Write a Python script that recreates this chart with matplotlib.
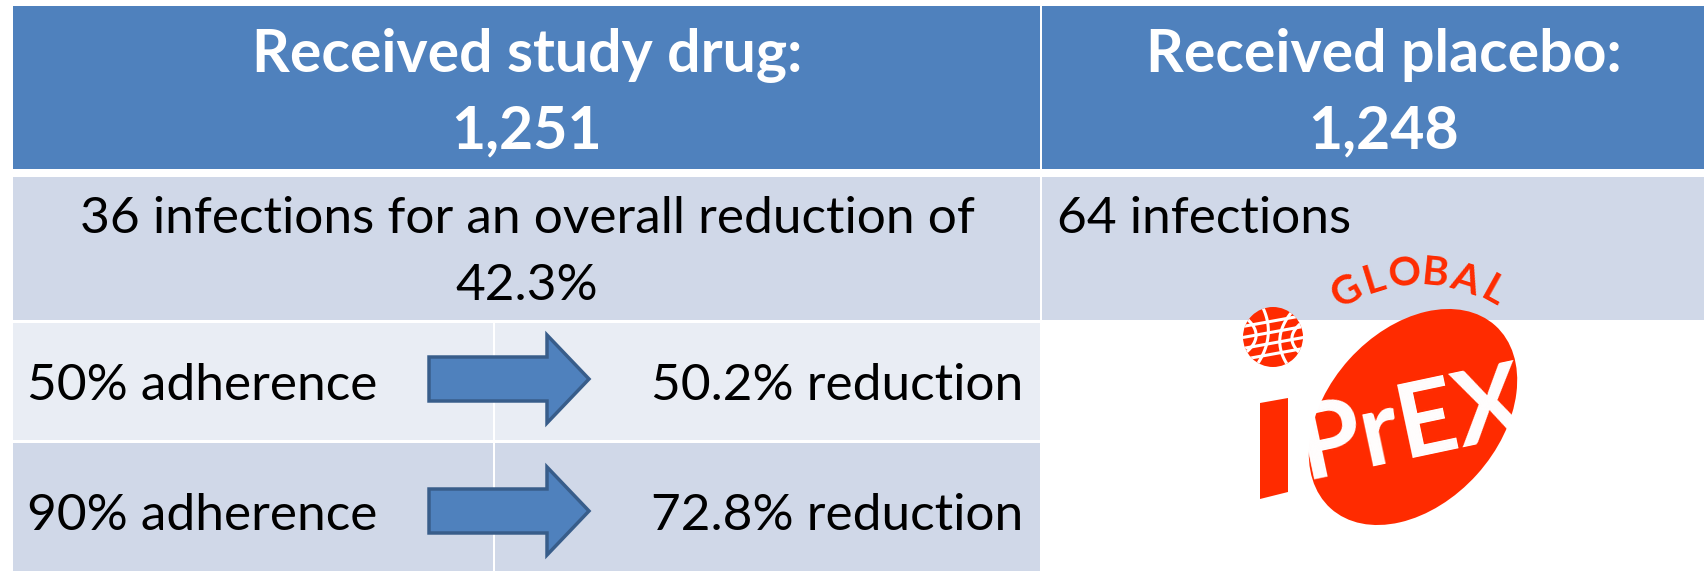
import numpy as np
import matplotlib
import matplotlib.pyplot as plt
from matplotlib import font_manager
from matplotlib.patches import Rectangle, FancyArrow, Ellipse, Circle, Polygon

matplotlib.use('Agg')

# data
groups = ['Received study drug:', 'Received placebo:']
enrolled = [1251, 1248]
infections = [36, 64]
overall_reduction = 42.3
adherence = [50, 90]
adherence_reduction = [50.2, 72.8]

# fonts
names = {f.name for f in font_manager.fontManager.ttflist}
FONT = 'Lato' if 'Lato' in names else 'Liberation Sans'

BLUE = '#4F81BD'
DARK = '#D0D8E8'
LIGHT = '#E9EDF4'
RED = '#FF2B00'

fig = plt.figure(figsize=(17.04, 5.71), dpi=100)
ax = fig.add_axes([0, 0, 1, 1])
ax.set_xlim(0, 1704)
ax.set_ylim(571, 0)
ax.axis('off')

# table cells (pixel layout)
cols = [(13, 1040), (1042, 1704)]
for x0, x1 in cols:
    ax.add_patch(Rectangle((x0, 6), x1 - x0, 163, fc=BLUE, ec='none'))
    ax.add_patch(Rectangle((x0, 177), x1 - x0, 143, fc=DARK, ec='none'))
sub_rows = [(323, 440, LIGHT), (443, 571, DARK)]
for top, bot, c in sub_rows:
    ax.add_patch(Rectangle((13, top), 480, bot - top, fc=c, ec='none'))
    ax.add_patch(Rectangle((495, top), 545, bot - top, fc=c, ec='none'))

# header text
centers = [527, 1384]
for i in range(2):
    ax.text(centers[i], 72, groups[i], ha='center', va='baseline', color='white',
            fontsize=42.5, fontweight='bold', family=FONT)
    ax.text(centers[i], 148, f'{enrolled[i]:,}', ha='center', va='baseline', color='white',
            fontsize=42.5, fontweight='bold', family=FONT)

# infections row
ax.text(527, 233, f'{infections[0]} infections for an overall reduction of', ha='center',
        va='baseline', fontsize=37, family=FONT)
ax.text(527, 300, f'{overall_reduction}%', ha='center', va='baseline', fontsize=37, family=FONT)
ax.text(1057, 233, f'{infections[1]} infections', ha='left', va='baseline', fontsize=37, family=FONT)

# adherence rows
baselines = [400, 530]
arrow_y = [379, 511]
for i in range(2):
    ax.text(27, baselines[i], f'{adherence[i]}% adherence', ha='left', va='baseline',
            fontsize=37, family=FONT)
    ax.text(1023, baselines[i], f'{adherence_reduction[i]}% reduction', ha='right', va='baseline',
            fontsize=37, family=FONT)
    ax.add_patch(FancyArrow(429, arrow_y[i], 160, 0, width=44, head_width=88, head_length=42,
                            length_includes_head=True, fc=BLUE, ec='#385D8A', lw=2.5))

# logo
ax.add_patch(Ellipse((1413, 417), 246, 172, angle=-48, fc=RED, ec='none'))
ax.add_patch(Polygon([(1260, 403), (1288, 398), (1288, 492), (1260, 499)], fc=RED, ec='none'))
globe = Circle((1273, 337), 30, fc=RED, ec='none')
ax.add_patch(globe)
for off in [-16, -5, 6, 17]:
    ln, = ax.plot([1240, 1306], [337 + off + 6, 337 + off - 6], color='white', lw=2.2)
    ln.set_clip_path(globe)
for off in [-17, -5, 7, 19]:
    xs = np.linspace(-32, 32, 30)
    ln, = ax.plot(1273 + off + 0.004 * off * xs ** 2 / 2 - 0.12 * xs, 337 + xs, color='white', lw=2.2)
    ln.set_clip_path(globe)
ax.text(1412, 425, 'PrEX', ha='center', va='center', rotation=12, rotation_mode='anchor',
        color='white', fontsize=74, fontweight='bold', family=FONT)
for k, ch in enumerate('GLOBAL'):
    a = np.radians(119 - 11.6 * k)
    ax.text(1420 + 152 * np.cos(a), 425 - 152 * np.sin(a), ch, ha='center', va='center',
            rotation=np.degrees(a) - 90, rotation_mode='anchor', color=RED,
            fontsize=29, fontweight='bold', family=FONT)

fig.savefig('out.png', dpi=100)
